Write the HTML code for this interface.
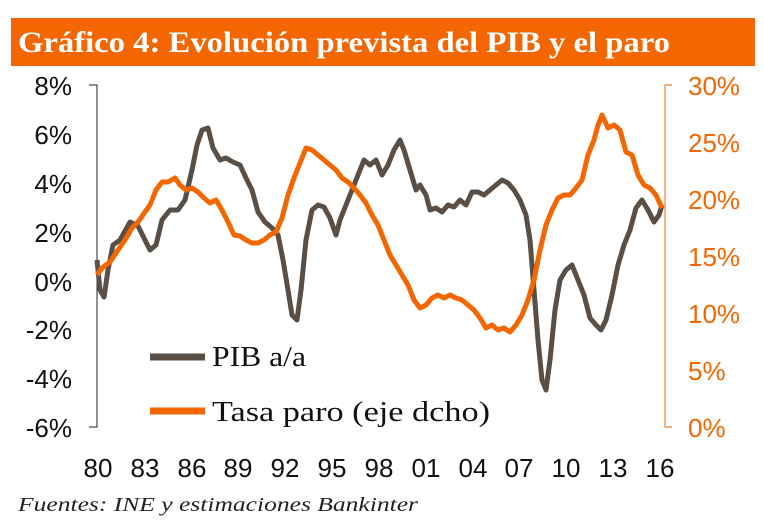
<!DOCTYPE html>
<html><head><meta charset="utf-8"><style>
body{margin:0;width:764px;height:520px;background:#fff;overflow:hidden;position:relative;font-family:"Liberation Sans",sans-serif}
.hdr{position:absolute;left:11px;top:18px;width:744px;height:48px;background:#f36600}
</style></head><body>
<div class="hdr"></div>
<svg width="764" height="520" style="position:absolute;left:0;top:0">
<text x="18" y="52" font-family="Liberation Serif,serif" font-weight="bold" font-size="30" fill="#fff" textLength="652" lengthAdjust="spacingAndGlyphs">Gráfico 4: Evolución prevista del PIB y el paro</text>
<g font-size="26" fill="#111" text-anchor="end">
<text x="72" y="95">8%</text><text x="72" y="144">6%</text><text x="72" y="193">4%</text><text x="72" y="242">2%</text><text x="72" y="291">0%</text><text x="72" y="339">-2%</text><text x="72" y="388">-4%</text><text x="72" y="437">-6%</text>
</g>
<g font-size="26" fill="#f36600">
<text x="688" y="95">30%</text><text x="688" y="152">25%</text><text x="688" y="209">20%</text><text x="688" y="266">15%</text><text x="688" y="323">10%</text><text x="688" y="380">5%</text><text x="688" y="437">0%</text>
</g>
<g font-size="26" fill="#111" text-anchor="middle">
<text x="98" y="477">80</text><text x="145" y="477">83</text><text x="192" y="477">86</text><text x="238" y="477">89</text><text x="285" y="477">92</text><text x="332" y="477">95</text><text x="379" y="477">98</text><text x="426" y="477">01</text><text x="473" y="477">04</text><text x="519" y="477">07</text><text x="566" y="477">10</text><text x="613" y="477">13</text><text x="660" y="477">16</text>
</g>
<path d="M89 85H97V427H89" fill="none" stroke="#222" stroke-width="1"/>
<path d="M672 85H665V427H672" fill="none" stroke="#f36600" stroke-width="1"/>
<polyline fill="none" stroke="#5a4f46" stroke-width="5" stroke-linejoin="round" points="97,260 100,290 104,297 108,270 113,245 120,240 130,222 138,226 145,240 150,250 156,245 162,220 170,210 178,210 185,200 192,170 197,145 202,130 208,128 213,148 220,160 226,158 233,162 240,165 246,178 252,190 258,212 265,222 272,228 278,235 283,260 288,290 292,315 297,320 301,290 306,240 312,210 318,205 324,207 330,218 336,235 340,220 346,205 352,190 358,175 364,160 370,165 376,160 382,175 388,165 394,150 400,140 404,150 410,170 416,190 420,185 426,195 430,210 436,208 442,212 448,205 454,207 460,200 466,205 472,192 478,192 484,195 490,190 496,185 502,180 508,183 514,190 520,200 526,215 530,240 534,290 538,340 542,380 546,390 550,360 555,310 560,280 566,270 572,265 578,280 584,295 590,318 596,325 601,330 606,320 612,295 618,265 624,245 630,230 636,208 642,200 648,210 654,222 659,215 662,205"/>
<polyline fill="none" stroke="#f36600" stroke-width="5" stroke-linejoin="round" points="97,275 102,268 110,262 118,250 125,240 132,228 138,222 145,212 150,205 156,190 162,182 168,182 175,178 180,185 186,190 192,188 198,192 204,198 210,203 216,200 222,210 228,222 234,235 240,236 246,240 252,243 258,243 264,240 270,235 276,232 282,218 288,195 294,178 300,163 306,148 312,150 318,155 324,160 330,165 336,170 342,178 348,182 354,188 360,195 366,203 372,215 378,225 384,240 390,255 396,265 402,275 408,285 414,300 420,308 426,305 432,298 438,295 444,298 450,295 456,298 462,300 468,305 474,310 480,318 486,328 492,325 498,330 504,328 510,332 516,325 522,315 528,300 534,280 540,250 546,225 552,210 558,198 564,195 570,195 576,188 582,180 588,155 594,140 598,125 602,115 608,128 614,125 620,130 626,152 632,155 638,175 644,185 650,188 656,195 662,208"/>
<line x1="150" y1="357" x2="205" y2="357" stroke="#5a4f46" stroke-width="7"/>
<line x1="150" y1="411" x2="205" y2="411" stroke="#f36600" stroke-width="7"/>
<g font-family="Liberation Serif,serif" font-size="28" fill="#111">
<text x="212" y="366" textLength="94" lengthAdjust="spacingAndGlyphs">PIB a/a</text><text x="212" y="421" textLength="278" lengthAdjust="spacingAndGlyphs">Tasa paro (eje dcho)</text>
</g>
<text x="18" y="511" font-family="Liberation Serif,serif" font-style="italic" font-size="20" fill="#222" textLength="400" lengthAdjust="spacingAndGlyphs">Fuentes: INE y estimaciones Bankinter</text>
</svg>
</body></html>
